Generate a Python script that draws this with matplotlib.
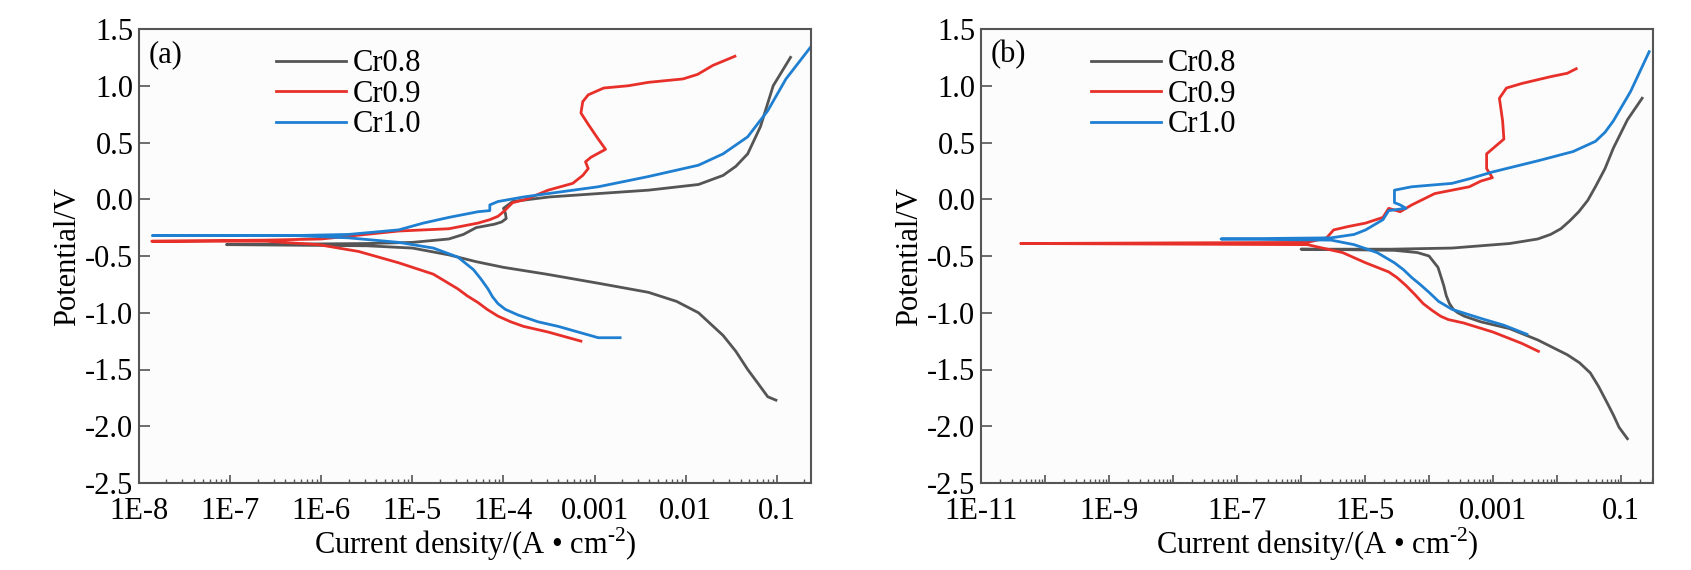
import numpy as np
import matplotlib
matplotlib.use("Agg")
import matplotlib.pyplot as plt
from matplotlib.ticker import FixedLocator, LogLocator, NullFormatter

plt.rcParams['font.family'] = ['Liberation Serif', 'DejaVu Serif']
plt.rcParams['mathtext.fontset'] = 'custom'
plt.rcParams['mathtext.rm'] = 'Liberation Serif'

labels = ['Cr0.8', 'Cr0.9', 'Cr1.0']
colors = ['#555555', '#e8302a', '#1f7fd1']

# panel (a): log10 of current density (A/cm2) and potential (V)
a_cr08_logi = [-1.01, -1.1, -1.2, -1.32, -1.45, -1.59, -1.86, -2.1, -2.41, -2.96, -3.53, -4.0,
               -4.3, -4.6, -5.0, -5.5, -7.04, -5.5, -5.0, -4.6, -4.44, -4.3, -4.1, -4.02,
               -3.97, -3.98, -4.0, -3.9, -3.5, -2.96, -2.41, -1.86, -1.59, -1.45, -1.32,
               -1.18, -1.04, -0.85]
a_cr08_e = [-1.77, -1.74, -1.63, -1.5, -1.34, -1.2, -1.0, -0.9, -0.82, -0.74, -0.66, -0.6,
            -0.55, -0.49, -0.43, -0.41, -0.40, -0.39, -0.38, -0.35, -0.31, -0.25, -0.22, -0.2,
            -0.17, -0.12, -0.08, -0.02, 0.02, 0.05, 0.08, 0.13, 0.21, 0.29, 0.40,
            0.64, 1.0, 1.25]
a_cr09_logi = [-3.15, -3.51, -3.78, -3.92, -4.06, -4.18, -4.28, -4.4, -4.5, -4.77, -5.15,
               -5.59, -6.03, -6.6, -7.86, -6.6, -6.0, -5.15, -4.6, -4.28, -4.15, -4.06, -4.0,
               -3.9, -3.75, -3.51, -3.24, -3.13, -3.07, -3.1, -3.04, -2.88, -2.96, -3.07,
               -3.15, -3.13, -3.07, -2.9, -2.63, -2.41, -2.03, -1.87, -1.7, -1.46]
a_cr09_e = [-1.25, -1.17, -1.12, -1.08, -1.03, -0.97, -0.91, -0.85, -0.79, -0.66, -0.56,
            -0.46, -0.40, -0.37, -0.37, -0.36, -0.35, -0.28, -0.26, -0.21, -0.18, -0.15, -0.11,
            -0.03, 0.0, 0.08, 0.14, 0.21, 0.27, 0.33, 0.37, 0.44, 0.53, 0.66,
            0.76, 0.86, 0.92, 0.98, 1.0, 1.03, 1.06, 1.10, 1.18, 1.26]
a_cr10_logi = [-2.72, -2.96, -3.18, -3.4, -3.62, -3.84, -3.98, -4.06, -4.12, -4.17, -4.25,
               -4.33, -4.5, -4.77, -5.15, -5.7, -6.3, -7.85, -6.3, -5.7, -5.15, -4.88, -4.6,
               -4.28, -4.15, -4.15, -4.06, -3.78, -3.51, -2.96, -2.41, -1.86, -1.59, -1.32,
               -1.1, -0.9, -0.63]
a_cr10_e = [-1.22, -1.22, -1.17, -1.12, -1.08, -1.02, -0.97, -0.92, -0.86, -0.79, -0.70,
            -0.62, -0.51, -0.43, -0.38, -0.34, -0.32, -0.32, -0.32, -0.31, -0.27, -0.21, -0.16,
            -0.11, -0.1, -0.05, -0.02, 0.02, 0.05, 0.11, 0.2, 0.3, 0.40, 0.55,
            0.78, 1.06, 1.34]

# panel (b)
b_cr08_logi = [-0.9, -1.03, -1.12, -1.22, -1.35, -1.48, -1.65, -1.84, -2.3, -2.74, -3.19,
               -3.45, -3.55, -3.62, -3.68, -3.73, -3.77, -3.82, -3.86, -4.0, -4.18, -4.54,
               -5.2, -6.0, -5.2, -4.6, -3.64, -2.74, -2.3, -2.1, -1.94, -1.8, -1.66, -1.52,
               -1.4, -1.25, -1.12, -0.9, -0.67]
b_cr08_e = [-2.11, -2.01, -1.9, -1.79, -1.65, -1.53, -1.44, -1.37, -1.24, -1.14, -1.08,
            -1.03, -1.0, -0.97, -0.92, -0.85, -0.76, -0.67, -0.6, -0.5, -0.47, -0.45,
            -0.445, -0.44, -0.44, -0.44, -0.43, -0.39, -0.35, -0.31, -0.26, -0.19, -0.11,
            -0.01, 0.11, 0.27, 0.45, 0.7, 0.89]
b_cr09_logi = [-2.29, -2.55, -3.0, -3.46, -3.7, -3.82, -3.95, -4.09, -4.22, -4.36, -4.5,
               -4.63, -4.99, -5.35, -5.9, -10.38, -5.9, -5.6, -5.49, -5.26, -4.99, -4.72,
               -4.63, -4.45, -4.27, -4.09, -3.91, -3.64, -3.37, -3.19, -3.01, -3.1, -3.1,
               -2.83, -2.85, -2.9, -2.79, -2.55, -2.1, -1.84, -1.7]
b_cr09_e = [-1.34, -1.27, -1.17, -1.09, -1.06, -1.03, -0.98, -0.92, -0.84, -0.76, -0.69,
            -0.64, -0.56, -0.47, -0.40, -0.39, -0.38, -0.34, -0.27, -0.24, -0.21, -0.16,
            -0.08, -0.11, -0.05, 0.0, 0.05, 0.08, 0.11, 0.16, 0.19, 0.27, 0.40,
            0.53, 0.69, 0.89, 0.98, 1.02, 1.08, 1.11, 1.15]
b_cr10_logi = [-2.47, -2.83, -3.19, -3.64, -3.85, -4.0, -4.14, -4.27, -4.4, -4.54, -4.81,
               -5.17, -5.53, -7.25, -5.53, -5.17, -4.99, -4.72, -4.63, -4.36, -4.45, -4.54,
               -4.54, -4.27, -3.64, -3.37, -3.01, -2.29, -1.75, -1.4, -1.25, -1.12, -0.85,
               -0.56]
b_cr10_e = [-1.19, -1.11, -1.05, -0.97, -0.9, -0.82, -0.75, -0.69, -0.62, -0.56, -0.47,
            -0.40, -0.36, -0.35, -0.34, -0.31, -0.27, -0.18, -0.10, -0.08, -0.05, -0.03,
            0.08, 0.11, 0.14, 0.18, 0.24, 0.34, 0.42, 0.51, 0.59, 0.69, 0.95, 1.30]

a_ticks = [1e-8, 1e-7, 1e-6, 1e-5, 1e-4, 1e-3, 1e-2, 1e-1]
a_ticklabels = ['1E-8', '1E-7', '1E-6', '1E-5', '1E-4', '0.001', '0.01', '0.1']
b_ticks = [1e-11, 1e-10, 1e-9, 1e-8, 1e-7, 1e-6, 1e-5, 1e-4, 1e-3, 1e-2, 1e-1]
b_ticklabels = ['1E-11', '', '1E-9', '', '1E-7', '', '1E-5', '', '0.001', '', '0.1']
y_ticks = [1.5, 1.0, 0.5, 0.0, -0.5, -1.0, -1.5, -2.0, -2.5]

fig = plt.figure(figsize=(16.91, 5.70), dpi=100)
ax_a = fig.add_axes([139 / 1691, 87 / 570, 672 / 1691, 454 / 570])
ax_b = fig.add_axes([981 / 1691, 87 / 570, 672 / 1691, 454 / 570])

panels = [
    (ax_a, [(a_cr08_logi, a_cr08_e), (a_cr09_logi, a_cr09_e), (a_cr10_logi, a_cr10_e)],
     (1e-8, 0.237), a_ticks, a_ticklabels, '(a)', 0.204),
    (ax_b, [(b_cr08_logi, b_cr08_e), (b_cr09_logi, b_cr09_e), (b_cr10_logi, b_cr10_e)],
     (1e-11, 0.316), b_ticks, b_ticklabels, '(b)', 0.164),
]

for ax, curves, xlim, ticks, ticklabels, tag, legx in panels:
    for (logi, e), lab, c in zip(curves, labels, colors):
        ax.plot(10 ** np.array(logi), e, color=c, lw=2.0, label=lab)
    ax.set_xscale('log')
    ax.set_xlim(*xlim)
    ax.set_ylim(-2.5, 1.5)
    ax.xaxis.set_major_locator(FixedLocator(ticks))
    ax.set_xticklabels(ticklabels)
    ax.xaxis.set_minor_locator(LogLocator(base=10, subs=np.arange(2, 10), numticks=30))
    ax.xaxis.set_minor_formatter(NullFormatter())
    ax.set_yticks(y_ticks)
    ax.set_yticklabels([f'{v:.1f}' for v in y_ticks])
    ax.tick_params(axis='x', which='major', direction='in', length=6, width=1.2,
                   labelsize=22, pad=10, color='#555555')
    ax.tick_params(axis='x', which='minor', direction='in', length=3, width=1.0,
                   color='#555555')
    ax.tick_params(axis='y', which='major', direction='in', length=8, width=1.2,
                   labelsize=22, pad=4, color='#555555')
    for s in ax.spines.values():
        s.set_color('#555555')
        s.set_linewidth(1.5)
    ax.set_facecolor('#fcfcfc')
    ax.set_ylabel('Potential/V', fontsize=22, labelpad=2)
    ax.set_xlabel(r'Current density/(A • cm$^{\text{-2}}$)', fontsize=22, labelpad=0)
    ax.text(0.015, 0.975, tag, transform=ax.transAxes, fontsize=22, va='top', ha='left')
    ax.legend(loc='upper left', bbox_to_anchor=(legx, 0.955), frameon=False, fontsize=22,
              handlelength=2.3, handletextpad=0.2, labelspacing=0.05, borderpad=0,
              borderaxespad=0)

fig.savefig('out.png', dpi=100)
